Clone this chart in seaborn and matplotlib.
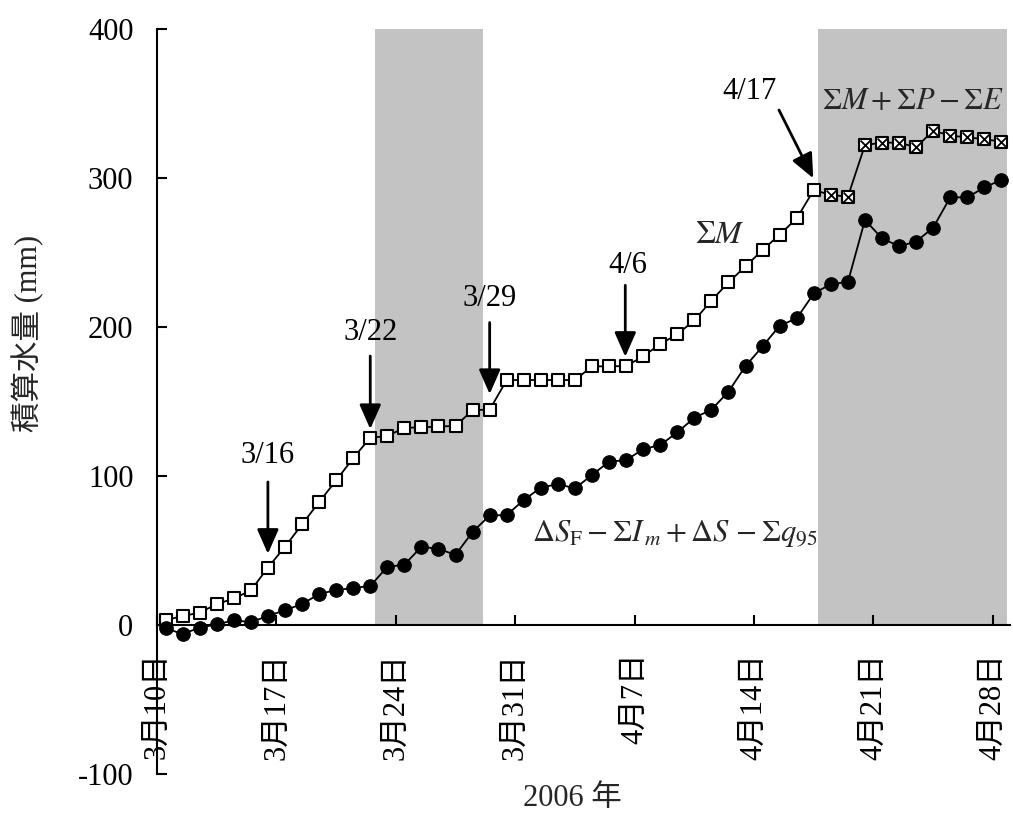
import numpy as np
import pandas as pd
from matplotlib import pyplot as plt
import seaborn as sns

# cumulative water (mm), one value per day from 3/10 to 4/28 (2006)
sum_melt = [3.3, 6, 8.3, 14, 17.8, 23.2, 38.5, 52.5, 67.5, 82.5,
            97, 112, 125.7, 126.8, 132.4, 132.6, 133.3, 133.5, 144.3, 144.5,
            164.4, 164.4, 164.4, 164.4, 164.4, 173.6, 173.6, 173.8, 180.3, 188.6,
            195.1, 204.5, 217.7, 230, 240.7, 251.7, 262, 272.9, 291.9]
sum_melt_rain = [288.6, 287.5, 322.1, 323.7, 323.7, 320.6, 331.8, 328.4, 327.3, 326, 324.4]
storage = [-2.2, -6, -1.8, 0.5, 3.1, 2, 6, 10, 14, 20.8,
           23.5, 24.8, 26.2, 39, 40.5, 52.5, 51.1, 47.1, 62.5, 73.5,
           73.8, 83.9, 92.2, 94.6, 91.7, 100.7, 109.6, 110.7, 118, 120.8,
           129.3, 139.1, 144.5, 156.6, 173.8, 187, 200.9, 205.8, 222.5, 228.8,
           230.2, 271.8, 259.5, 254.2, 257.3, 266.7, 287, 287, 293.7, 298.7]

tick_days = [0, 7, 14, 21, 28, 35, 42, 49]
tick_labels = ["3月10日", "3月17日", "3月24日", "3月31日", "4月7日", "4月14日", "4月21日", "4月28日"]
shaded = [(12.78, 19.13), (38.75, 49.8)]

arrow_labels = ["3/16", "3/22", "3/29", "4/6", "4/17"]

day = np.arange(len(storage)) + 0.5  # daily values plotted at noon
n_m = len(sum_melt)
upper = pd.DataFrame({"day": day, "value": sum_melt + sum_melt_rain})
lower = pd.DataFrame({"day": day, "value": storage})

sns.set_style("ticks")
plt.rcParams["font.family"] = ["Liberation Serif", "Noto Sans CJK JP"]
plt.rcParams["mathtext.fontset"] = "stix"
plt.rcParams["axes.unicode_minus"] = False

fig = plt.figure(figsize=(10.13, 8.14), dpi=100)
ax = fig.add_axes([0.155, 0.0491, 0.842, 0.9153])

for a, b in shaded:
    ax.fill_betweenx([0, 400], a, b, color="#c3c3c3", lw=0, zorder=0)

sns.lineplot(data=upper, x="day", y="value", color="k", lw=1.3, ax=ax, zorder=2)
sns.lineplot(data=lower, x="day", y="value", color="k", lw=1.3, ax=ax, zorder=2)

sns.scatterplot(data=upper.iloc[:n_m], x="day", y="value", marker="s", s=80,
                facecolor="white", edgecolor="k", linewidth=1.5, ax=ax, zorder=3)
sns.scatterplot(data=upper.iloc[n_m:], x="day", y="value", marker="s", s=80,
                facecolor="white", edgecolor="k", linewidth=1.5, ax=ax, zorder=3)
sns.scatterplot(data=upper.iloc[n_m:], x="day", y="value", marker="x", s=50,
                color="k", linewidth=1.3, ax=ax, zorder=4)
sns.scatterplot(data=lower, x="day", y="value", marker="o", s=95,
                color="k", edgecolor="k", ax=ax, zorder=3)

# arrows with dates
arrow_tail = [(6.5, 96), (12.5, 180.5), (19.5, 203), (27.45, 228), (36.46, 345.6)]
arrow_tip = [(6.5, 47.8), (12.5, 131.5), (19.5, 155), (27.45, 180), (38.47, 299.8)]
label_pos = [(6.5, 114), (12.5, 196.6), (19.5, 219), (27.6, 241.6), (34.76, 358)]
for lab, tail, tip, pos in zip(arrow_labels, arrow_tail, arrow_tip, label_pos):
    ax.annotate("", xy=tip, xytext=tail,
                arrowprops=dict(arrowstyle="-|>,head_length=0.5,head_width=0.22",
                                color="k", lw=2, mutation_scale=30,
                                shrinkA=0, shrinkB=0), zorder=5)
    ax.text(pos[0], pos[1], lab, fontsize=22, ha="center", va="center", color="k")

ax.text(33.0, 261.7, r"$\Sigma M$", fontsize=23, ha="center", va="center")
ax.text(44.3, 351, r"$\Sigma M + \Sigma P - \Sigma E$", fontsize=22, ha="center", va="center")
ax.text(22.0, 61.7, r"$\Delta S_{\mathrm{F}} - \Sigma I_{\,m} + \Delta S\, -\Sigma q_{95}$",
        fontsize=22, ha="left", va="center")

ax.set_xlim(0, 50)
ax.set_ylim(-100, 400)
ax.set_yticks([-100, 0, 100, 200, 300, 400])
ax.set_xticks(tick_days)
ax.set_xticklabels(tick_labels)
ax.set_xlabel("")
ax.set_ylabel("")

sns.despine(ax=ax)
ax.spines["bottom"].set_position(("data", 0))
for s in ["left", "bottom"]:
    ax.spines[s].set_linewidth(1.5)
    ax.spines[s].set_color("k")
ax.tick_params(axis="y", direction="in", length=7.5, width=1.5, labelsize=22, pad=17, colors="k")
ax.tick_params(axis="x", direction="in", length=7.5, width=1.5, labelsize=22, pad=20,
               colors="k", labelrotation=90)

fig.text(28 / 1013, 1 - 333 / 814, "積算水量 (mm)", rotation=90, fontsize=22,
         ha="center", va="center")
fig.text(572 / 1013, 1 - 798 / 814, "2006 年", fontsize=22, ha="center", va="center")

fig.savefig("out.png", dpi=100)
